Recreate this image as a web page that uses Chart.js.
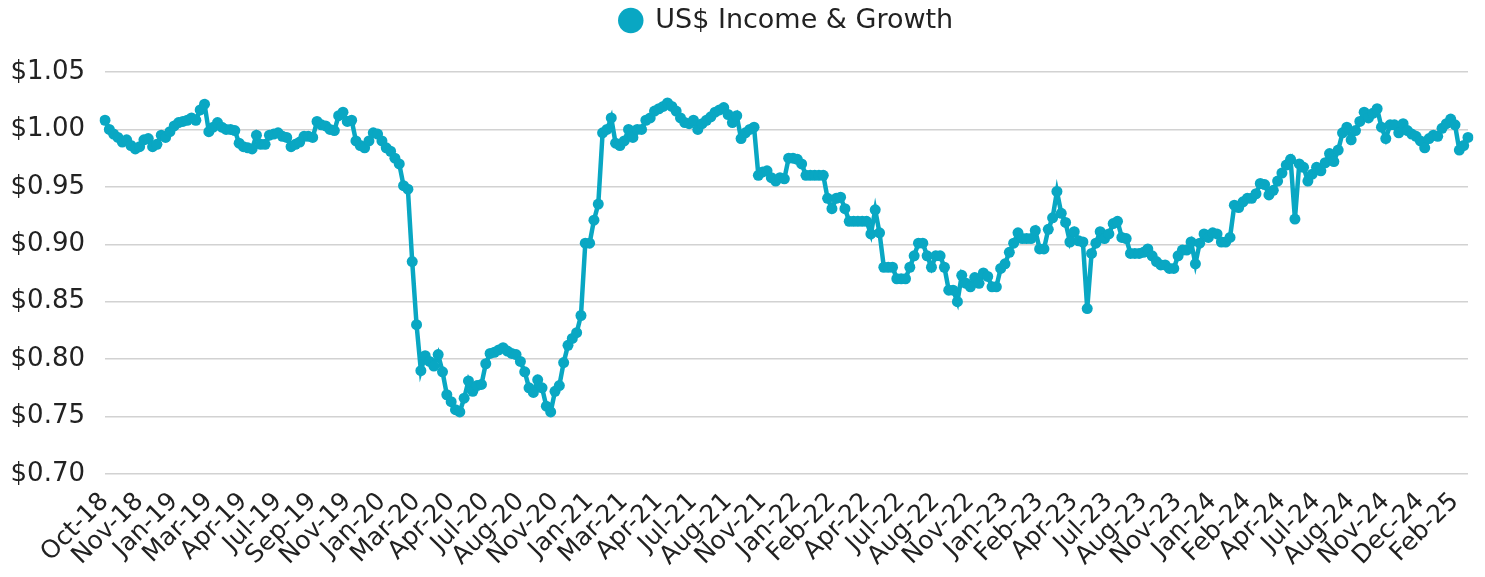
<!DOCTYPE html>
<html>
<head>
<meta charset="utf-8">
<script src="https://cdn.jsdelivr.net/npm/chart.js@4.4.1/dist/chart.umd.min.js"></script>
<style>
  html, body { margin: 0; padding: 0; background: #fff; }
  #wrap { width: 1485px; height: 577px; }
</style>
</head>
<body>
<div id="wrap"><canvas id="c" width="1485" height="577"></canvas></div>
<script>
const seriesName = 'US$ Income & Growth';

const tickLabels = ['Oct-18','Nov-18','Jan-19','Mar-19','Apr-19','Jul-19','Sep-19','Nov-19','Jan-20','Mar-20',
  'Apr-20','Jul-20','Aug-20','Nov-20','Jan-21','Mar-21','Apr-21','Jul-21','Aug-21','Nov-21',
  'Jan-22','Feb-22','Apr-22','Jul-22','Aug-22','Nov-22','Jan-23','Feb-23','Apr-23','Jul-23',
  'Aug-23','Nov-23','Jan-24','Feb-24','Apr-24','Jul-24','Aug-24','Nov-24','Dec-24','Feb-25'];

const values2018_2019 = [
  1.008,1.000,0.996,0.993,0.989,0.991,0.986,0.983,0.985,0.991,
  0.992,0.985,0.987,0.995,0.993,0.998,1.003,1.006,1.007,1.008,
  1.010,1.008,1.017,1.022,0.998,1.002,1.006,1.002,1.000,1.000,
  0.999,0.988,0.985,0.984,0.983,0.995,0.987,0.987,0.995,0.996,
  0.997,0.994,0.993,0.985,0.987,0.989,0.994,0.994,0.993,1.007,
  1.004,1.003,1.000,0.999,1.012,1.015,1.007,1.008,0.990,0.986,
  0.984,0.990,0.997,0.996,0.990,0.984,0.981,0.975,0.970,0.951
];
const values2020 = [
  0.948,0.885,0.830,0.790,0.803,0.798,0.794,0.804,0.789,0.769,
  0.763,0.756,0.754,0.766,0.781,0.772,0.777,0.778,0.796,0.805,
  0.806,0.808,0.810,0.807,0.805,0.804,0.798,0.789,0.775,0.771,
  0.782,0.775,0.759,0.754,0.772,0.777,0.797,0.812,0.818,0.823,
  0.838,0.901,0.901,0.921,0.935
];
const values2021 = [
  0.997,1.000,1.010,0.988,0.986,0.990,1.000,0.993,1.000,1.000,
  1.008,1.010,1.016,1.018,1.020,1.023,1.020,1.016,1.010,1.006,
  1.005,1.008,1.000,1.005,1.008,1.011,1.015,1.017,1.019,1.013,
  1.006,1.012,0.992,0.997,1.000,1.002,0.960,0.963,0.964,0.958,
  0.955,0.958,0.957,0.975,0.975,0.974,0.970,0.960,0.960,0.960,
  0.960,0.960
];
const values2022 = [
  0.940,0.931,0.940,0.941,0.931,0.920,0.920,0.920,0.920,0.920,
  0.909,0.930,0.910,0.880,0.880,0.880,0.870,0.870,0.870,0.880,
  0.890,0.901,0.901,0.890,0.880,0.890,0.890,0.880,0.860,0.860,
  0.850,0.873,0.866,0.863,0.871,0.866,0.875,0.872,0.863,0.863,
  0.879,0.883,0.893,0.901
];
const values2023 = [
  0.910,0.905,0.905,0.905,0.912,0.896,0.896,0.913,0.923,0.946,
  0.927,0.919,0.902,0.911,0.903,0.902,0.844,0.892,0.901,0.911,
  0.905,0.909,0.918,0.920,0.906,0.905,0.892,0.892,0.892,0.893,
  0.896,0.890,0.885,0.882,0.882,0.879,0.879,0.890,0.895,0.895,
  0.902,0.883,0.901,0.909,0.906,0.910,0.909,0.902,0.902,0.906
];
const values2024_2025 = [
  0.934,0.932,0.937,0.940,0.940,0.944,0.953,0.952,0.943,0.947,
  0.955,0.962,0.969,0.974,0.922,0.970,0.967,0.955,0.961,0.967,
  0.964,0.971,0.979,0.972,0.982,0.997,1.002,0.991,0.999,1.007,
  1.015,1.010,1.014,1.018,1.002,0.992,1.004,1.004,0.997,1.005,
  0.999,0.996,0.994,0.990,0.984,0.992,0.995,0.994,1.001,1.005,
  1.009,1.004,0.982,0.986,0.993
];

const yTicks = [0.70, 0.75, 0.80, 0.85, 0.90, 0.95, 1.00, 1.05];
const labelEvery = 8;

const values = [].concat(values2018_2019, values2020, values2021, values2022, values2023, values2024_2025);
const categories = values.map((_, i) => tickLabels[Math.min(tickLabels.length - 1, Math.floor(i / labelEvery))]);

const FONT = "'DejaVu Sans', 'Open Sans', sans-serif";
const LINE = '#09a7c3';

const legendSizer = {
  id: 'legendSizer',
  afterInit(chart) {
    const lg = chart.legend;
    if (!lg) return;
    const orig = lg.fit;
    lg.fit = function () { orig.call(this); this.height = 72; };
  }
};

new Chart(document.getElementById('c'), {
  type: 'line',
  data: {
    labels: categories,
    datasets: [{
      label: seriesName,
      data: values,
      borderColor: LINE,
      backgroundColor: LINE,
      borderWidth: 4.5,
      pointRadius: 5.5,
      pointHoverRadius: 5.5,
      pointBackgroundColor: LINE,
      pointBorderColor: LINE,
      pointBorderWidth: 0,
      tension: 0
    }]
  },
  options: {
    responsive: false,
    animation: false,
    devicePixelRatio: 1,
    layout: { padding: { left: 0, right: 17, top: 0, bottom: 0 } },
    plugins: {
      legend: {
        display: true,
        position: 'top',
        align: 'center',
        fullSize: false,
        labels: {
          usePointStyle: true,
          pointStyle: 'circle',
          boxWidth: 22,
          boxHeight: 18,
          padding: 7,
          color: '#222',
          font: { family: FONT, size: 27 }
        }
      },
      tooltip: { enabled: false }
    },
    scales: {
      x: {
        type: 'category',
        offset: false,
        grid: { display: false, drawTicks: false },
        border: { display: false },
        ticks: {
          autoSkip: false,
          minRotation: 45,
          maxRotation: 45,
          padding: 13,
          color: '#222',
          font: { family: FONT, size: 25 },
          callback: function (val, idx) {
            return idx % labelEvery === 0 ? this.getLabelForValue(val) : '';
          }
        },
        afterFit(scale) { scale.height = 103; scale.paddingRight = 0; scale.paddingLeft = 0; }
      },
      y: {
        min: yTicks[0],
        max: yTicks[yTicks.length - 1],
        grid: { color: '#d2d2d2', lineWidth: 1.5, drawTicks: false },
        border: { display: false },
        afterBuildTicks(scale) { scale.ticks = yTicks.map(v => ({ value: v })); },
        ticks: {
          padding: 20,
          color: '#222',
          font: { family: FONT, size: 26 },
          callback: v => '$' + Number(v).toFixed(2)
        },
        afterFit(scale) { scale.width = 105; }
      }
    }
  },
  plugins: [legendSizer]
});
</script>
</body>
</html>
